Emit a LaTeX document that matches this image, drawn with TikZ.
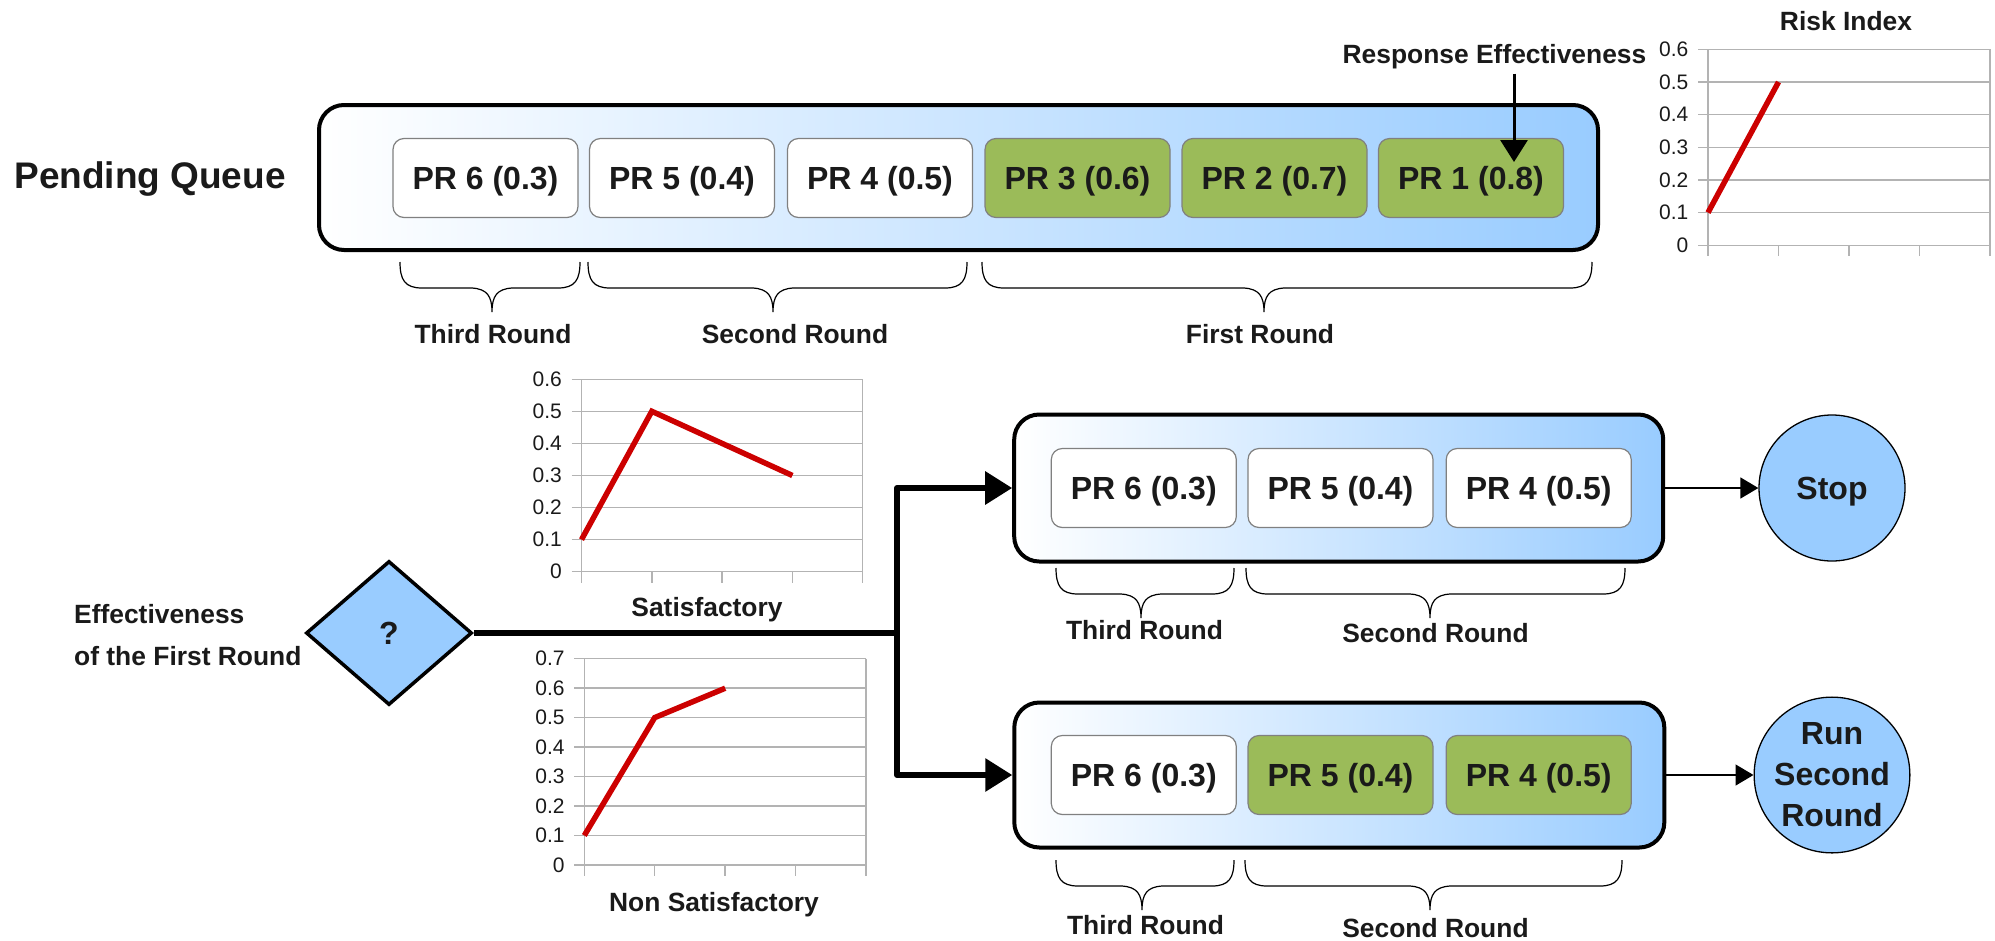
\documentclass[tikz,border=0pt]{standalone}
\usepackage{fontspec}
\setmainfont{Liberation Sans}
\usetikzlibrary{shapes.geometric,arrows.meta}

\definecolor{qblue}{RGB}{153,204,255}
\definecolor{prgreen}{RGB}{155,187,89}
\definecolor{prline}{RGB}{128,128,128}
\definecolor{gridgrey}{RGB}{179,179,179}
\definecolor{trendred}{RGB}{204,0,0}
\definecolor{ink}{RGB}{26,26,26}

\newcommand{\fsz}[2]{\fontsize{#1}{#2}\selectfont}

% curly brace below a group of requests: #1 left x, #2 right x, #3 tip x, #4 top y
\newcommand{\groupbrace}[4]{%
  \draw[bracestyle] (#1,#4) .. controls (#1,{#4+18}) and ({#1+5},{#4+26}) .. ({#1+22},{#4+26})
    -- ({#3-20},{#4+26}) .. controls ({#3-5},{#4+27}) and (#3,{#4+34}) .. (#3,{#4+50})
    .. controls (#3,{#4+34}) and ({#3+5},{#4+27}) .. ({#3+20},{#4+26})
    -- ({#2-22},{#4+26}) .. controls ({#2-5},{#4+26}) and (#2,{#4+18}) .. (#2,#4);}

% chart frame: #1 name prefix, #2 left x, #3 right x, #4 y of the zero line,
% #5 pixels per 0.1, #6 number of 0.1 steps
\newcommand{\chartgrid}[6]{%
  \foreach \k in {0,...,#6}{%
    \draw[gridline] ({#2-10},{#4-\k*#5}) -- (#3,{#4-\k*#5});
    \node[ticklabel] (#1-\k) at ({#2-19.5},{#4-\k*#5}) {\ifnum\k=0 0\else 0.\k\fi};
  }
  \foreach \i in {0,...,4}{%
    \draw[gridline] ({#2+\i*(#3-#2)/4},#4) -- ++(0,11);
  }
  \draw[gridline] (#2,{#4-#6*#5}) -- (#2,{#4+11});
  \draw[gridline] (#3,{#4-#6*#5}) -- (#3,{#4+11});
}

\begin{document}
\begin{tikzpicture}[x=1pt, y=-1pt,
  queue/.style={draw=black, line width=4pt, rounded corners=25pt,
    left color=white, right color=qblue, inner sep=0pt},
  req/.style={draw=prline, line width=1.2pt, rounded corners=11pt, fill=white,
    minimum width=185pt, minimum height=79pt, inner sep=0pt,
    font=\bfseries\fsz{32}{38}, text=ink, text height=23pt, text depth=0pt},
  reqdone/.style={req, fill=prgreen},
  lbl/.style={font=\bfseries\fsz{26.4}{32}, text=ink, inner sep=0pt, anchor=base},
  ticklabel/.style={font=\fsz{21}{25}, text=ink, inner sep=0pt, anchor=east},
  gridline/.style={draw=gridgrey, line width=1.5pt},
  trend/.style={draw=trendred, line width=5.5pt, line join=miter},
  bracestyle/.style={draw=black, line width=1.2pt},
  endpoint/.style={circle, draw=black, line width=1.3pt, fill=qblue,
    minimum size=146pt, inner sep=0pt, font=\bfseries\fsz{32}{41},
    text=ink, align=center},
  decision/.style={diamond, draw=black, line width=3.5pt, fill=qblue,
    minimum width=166pt, minimum height=144pt, inner sep=0pt,
    font=\bfseries\fsz{32}{38}, text=ink},
  flowline/.style={draw=black, line width=6pt, line join=round},
  flow/.style={flowline, -{Triangle[length=27pt,width=32pt]}},
  thinflow/.style={draw=black, line width=1.5pt, -{Triangle[length=18pt,width=21pt]}},
  pointer/.style={draw=black, line width=3pt, -{Triangle[length=22pt,width=27pt]}}
]
\useasboundingbox (0,0) rectangle (1995,940);

% ---------------- pending queue ----------------
\node[font=\bfseries\fsz{37}{44}, text=ink, inner sep=0pt, anchor=base] (pqlabel) at (150,188.3) {Pending Queue};

\node[queue, minimum width=1279pt, minimum height=145pt] (topq) at (958.5,177.5) {};
\node[req]     (t6) at (485.5,178) {PR 6 (0.3)};
\node[req]     (t5) at (682,178)   {PR 5 (0.4)};
\node[req]     (t4) at (880,178)   {PR 4 (0.5)};
\node[reqdone] (t3) at (1077.5,178){PR 3 (0.6)};
\node[reqdone] (t2) at (1274.5,178){PR 2 (0.7)};
\node[reqdone] (t1) at (1471,178)  {PR 1 (0.8)};

\node[lbl] (resp) at (1494.5,63) {Response Effectiveness};
\coordinate (resptip) at (1514,162);
\draw[pointer, shorten <=5pt] (resp.south -| resptip) -- (resptip);

\groupbrace{400}{580}{492}{262}
\groupbrace{588}{967}{773}{262}
\groupbrace{982}{1592}{1264}{262}
\node[lbl] (tthird)  at (493,343.3)  {Third Round};
\node[lbl] (tsecond) at (795,343.3)  {Second Round};
\node[lbl] (tfirst)  at (1260,343.3) {First Round};

% ---------------- risk index chart ----------------
\node[lbl] (risktitle) at (1846,30.7) {Risk Index};
\chartgrid{risk}{1708}{1990}{245.3}{32.67}{6}
\draw[trend] (1708,212.6) -- (1778.5,82);

% ---------------- decision ----------------
\node[lbl, anchor=base west] (eff1) at (74,623.3) {Effectiveness};
\node[lbl, anchor=base west] (eff2) at (74,665) {of the First Round};
\node[decision] (ask) at (389,633) {?};

% satisfactory outcome chart
\chartgrid{sat}{581.5}{862.7}{571.7}{32.07}{6}
\draw[trend] (581.5,539.6) -- (651.8,411.3) -- (792.4,475.5);
\node[lbl] (sattitle) at (707,616.7) {Satisfactory};

% non satisfactory outcome chart
\chartgrid{nons}{584.3}{866}{865}{29.47}{7}
\draw[trend] (584.3,835.5) -- (654.7,717.6) -- (725.2,688.2);
\node[lbl] (nonstitle) at (714,911.7) {Non Satisfactory};

% ---------------- outcome queues ----------------
\node[queue, minimum width=649pt, minimum height=147pt] (midq) at (1338.7,488) {};
\node[req] (m6) at (1143.8,488) {PR 6 (0.3)};
\node[req] (m5) at (1340.5,488) {PR 5 (0.4)};
\node[req] (m4) at (1538.7,488) {PR 4 (0.5)};

\node[queue, minimum width=650pt, minimum height=145pt] (botq) at (1339.3,775) {};
\node[req]     (b6) at (1143.8,775) {PR 6 (0.3)};
\node[reqdone] (b5) at (1340.5,775) {PR 5 (0.4)};
\node[reqdone] (b4) at (1538.7,775) {PR 4 (0.5)};

\groupbrace{1056}{1234}{1141}{568}
\groupbrace{1246}{1625}{1430}{568}
\node[lbl] (mthird)  at (1144.5,639.5) {Third Round};
\node[lbl] (msecond) at (1435.5,642)   {Second Round};

\groupbrace{1056}{1234}{1142}{860}
\groupbrace{1245}{1622}{1430}{860}
\node[lbl] (bthird)  at (1145.5,934.5) {Third Round};
\node[lbl] (bsecond) at (1435.5,937)   {Second Round};

\node[endpoint, text depth=0pt] (stop) at (1832,488) {Stop};
\node[endpoint] (run) at (1832,775) {Run\\Second\\Round};

% ---------------- connectors ----------------
\coordinate (fork) at (897,633);
\draw[flowline] (ask.east) -- (fork);
\draw[flow] (fork) |- (midq.west);
\draw[flow] (fork) |- (botq.west);
\draw[thinflow] (midq.east) -- (stop.west);
\draw[thinflow] (botq.east) -- (run.west);

\end{tikzpicture}
\end{document}
